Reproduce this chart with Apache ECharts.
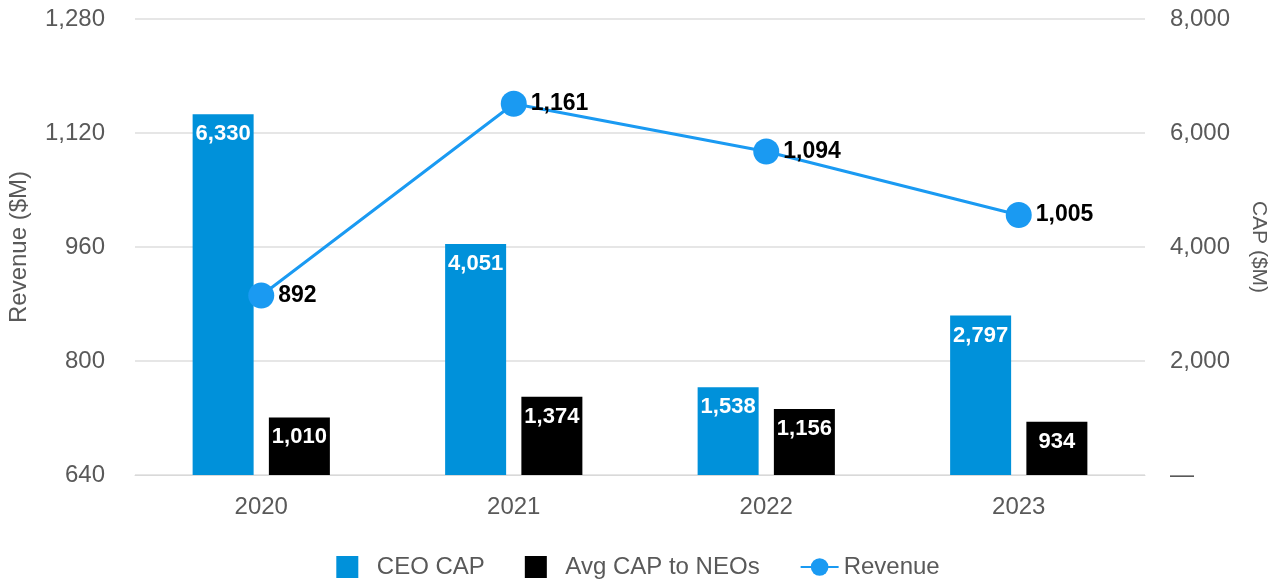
<!DOCTYPE html>
<html>
<head>
<meta charset="utf-8">
<script src="https://cdn.jsdelivr.net/npm/echarts@6/dist/echarts.min.js"></script>
<style>
  html, body { margin: 0; padding: 0; background: #fff; }
  #chart { width: 1276px; height: 585px; }
</style>
</head>
<body>
<div id="chart"></div>
<script>
// data
const years = ['2020', '2021', '2022', '2023'];
const ceoCap = [6330, 4051, 1538, 2797];
const neoCap = [1010, 1374, 1156, 934];
const revenue = [892, 1161, 1094, 1005];

const fmt = v => v.toLocaleString('en-US');
const font = 'Liberation Sans, Arial, sans-serif';
// square drawn at the left of a wider box (extra moveTo widens the bbox)
const squareIcon = 'path://M0 0H10V10H0ZM15 10';

let myChart = echarts.init(document.getElementById('chart'));
myChart.setOption({
  animation: false,
  textStyle: { fontFamily: font },
  grid: { left: 135, right: 131, top: 19, bottom: 110, outerBoundsMode: 'none', containLabel: false },
  legend: {
    bottom: 1,
    left: 'center',
    itemWidth: 38,
    itemHeight: 22,
    itemGap: 40,
    textStyle: { fontSize: 24, color: '#595959', fontFamily: font },
    data: [
      { name: 'CEO CAP', icon: squareIcon },
      { name: 'Avg CAP to NEOs', icon: squareIcon },
      { name: 'Revenue' }
    ]
  },
  xAxis: {
    type: 'category',
    data: years,
    axisLine: { lineStyle: { color: '#d9d9d9', width: 1 } },
    axisTick: { show: false },
    axisLabel: { fontSize: 24, color: '#595959', margin: 20 }
  },
  yAxis: [
    {
      type: 'value',
      min: 640, max: 1280, interval: 160,
      name: 'Revenue ($M)',
      nameLocation: 'middle',
      nameGap: 104,
      nameTextStyle: { fontSize: 24, color: '#595959' },
      axisLine: { show: false },
      axisTick: { show: false },
      axisLabel: { fontSize: 24, color: '#595959', margin: 30, formatter: v => fmt(v) },
      splitLine: { lineStyle: { color: '#e6e6e6', width: 2 } }
    },
    {
      type: 'value',
      min: 0, max: 8000, interval: 2000,
      name: 'CAP ($M)',
      nameLocation: 'middle',
      nameGap: 103,
      nameRotate: -90,
      nameTextStyle: { fontSize: 21, color: '#595959' },
      axisLine: { show: false },
      axisTick: { show: false },
      axisLabel: { fontSize: 24, color: '#595959', margin: 25, formatter: v => v === 0 ? '—' : fmt(v) },
      splitLine: { show: false }
    }
  ],
  series: [
    {
      name: 'CEO CAP',
      type: 'bar',
      yAxisIndex: 1,
      data: ceoCap,
      barWidth: 61,
      barGap: '25%',
      itemStyle: { color: '#0091da' },
      label: {
        show: true, position: 'insideTop', distance: 9,
        color: '#fff', fontWeight: 'bold', fontSize: 22,
        formatter: p => fmt(p.value)
      }
    },
    {
      name: 'Avg CAP to NEOs',
      type: 'bar',
      yAxisIndex: 1,
      data: neoCap,
      barWidth: 61,
      itemStyle: { color: '#000' },
      label: {
        show: true, position: 'insideTop', distance: 9,
        color: '#fff', fontWeight: 'bold', fontSize: 22,
        formatter: p => fmt(p.value)
      }
    },
    {
      name: 'Revenue',
      type: 'line',
      yAxisIndex: 0,
      data: revenue,
      symbol: 'circle',
      symbolSize: 26,
      lineStyle: { color: '#1a9af2', width: 3 },
      itemStyle: { color: '#1a9af2' },
      label: {
        show: true, position: 'right', distance: 4,
        color: '#000', fontWeight: 'bold', fontSize: 23,
        formatter: p => fmt(p.value)
      },
      z: 5
    }
  ]
});
</script>
</body>
</html>
